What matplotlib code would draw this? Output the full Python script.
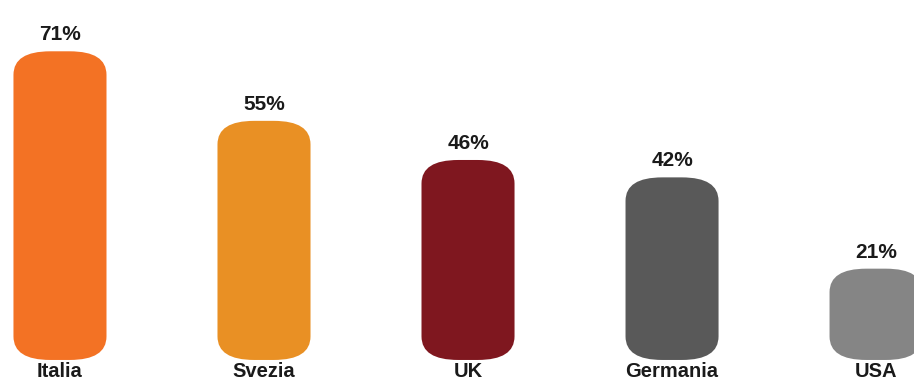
import matplotlib.pyplot as plt
from matplotlib.patches import FancyBboxPatch

paesi = ['Italia', 'Svezia', 'UK', 'Germania', 'USA']
valori = [71, 55, 46, 42, 21]
colori = ['#F37224', '#E99024', '#7F171F', '#595959', '#858585']

plt.rcParams['font.family'] = ['Liberation Sans', 'DejaVu Sans']

fig = plt.figure(figsize=(9.14, 3.83), dpi=100)
ax = fig.add_axes([0, 0, 1, 1])
ax.set_xlim(-0.294, 4.186)
ax.set_ylim(-5.3, 82.8)
ax.axis('off')

larg = 0.456
r = 0.18
for i, (p, v, c) in enumerate(zip(paesi, valori, colori)):
    bar = FancyBboxPatch((i - larg / 2, 0), larg, v,
                         boxstyle='round,pad=0,rounding_size=%g' % r,
                         mutation_aspect=30, fc=c, ec='none')
    ax.add_patch(bar)
    ax.annotate('%d%%' % v, (i, v), xytext=(0, 5), textcoords='offset points',
                ha='center', va='bottom', fontsize=15, fontweight='bold', color='#1a1a1a')
    # etichetta paese sotto la barra, appoggiata al bordo inferiore
    ax.text(i, 0.004, p, transform=ax.get_xaxis_transform(),
            ha='center', va='bottom', fontsize=14.5, fontweight='bold', color='#1a1a1a')

fig.savefig('out.png', dpi=100)
